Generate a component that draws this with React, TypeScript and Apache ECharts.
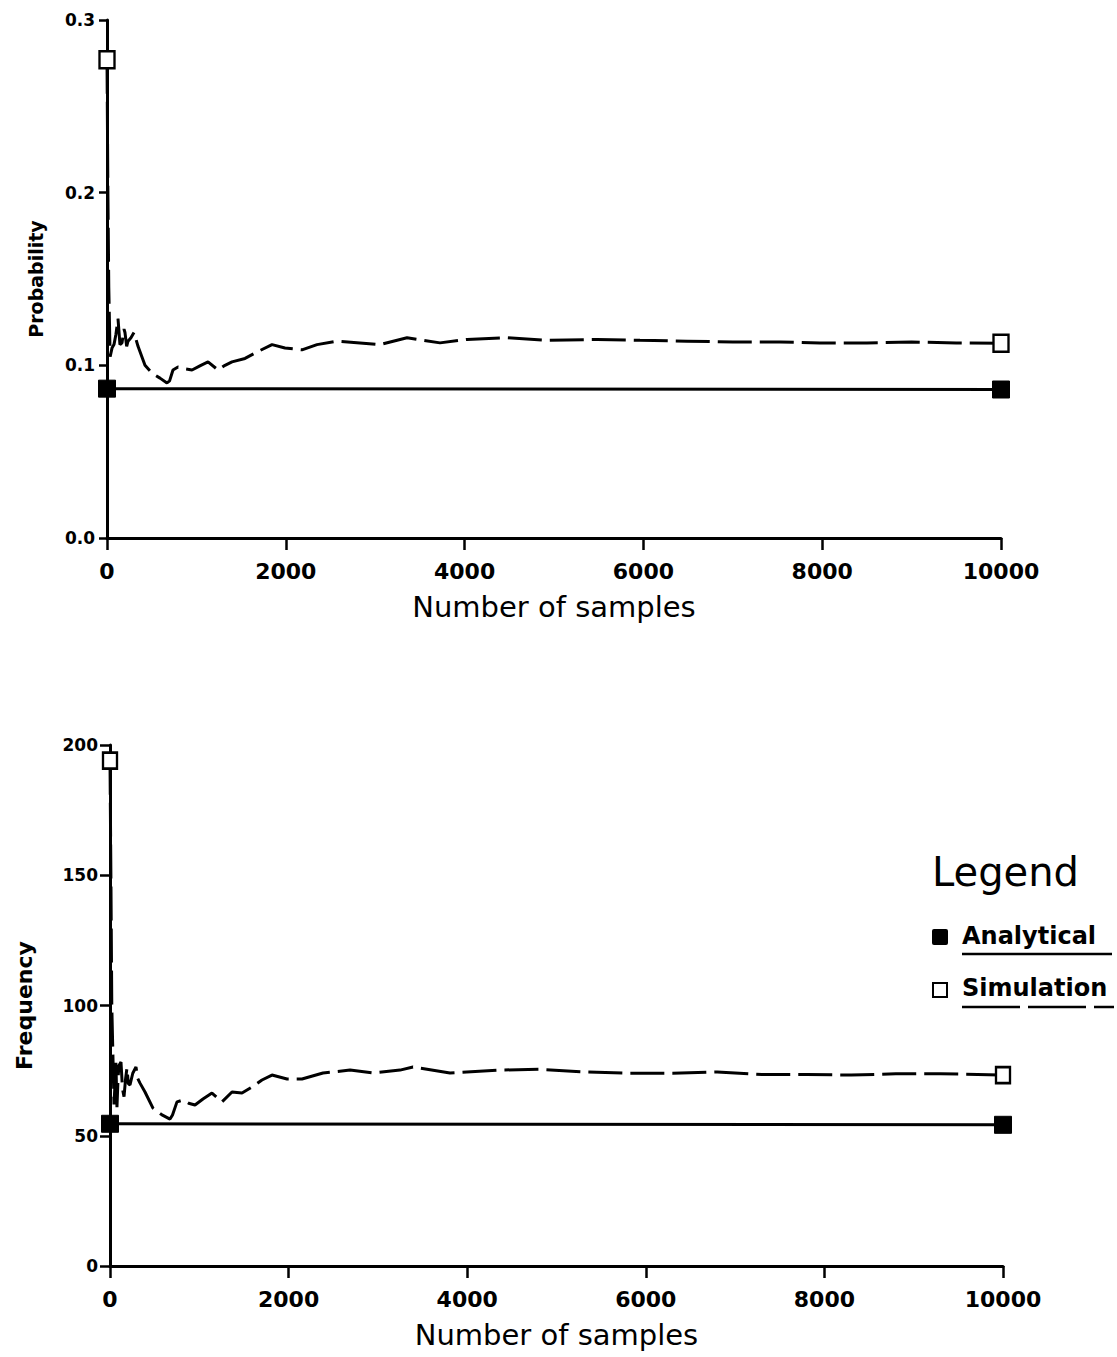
import React, { useEffect, useRef } from "react";
import * as echarts from "echarts";

// ---- Data ----
const xTicks = [0, 2000, 4000, 6000, 8000, 10000];

// Top panel: probability
const probSimX = [0, 10, 20, 35, 56, 78, 100, 123, 145, 168, 190, 201, 220, 235, 268, 302, 347, 390, 425, 503, 593, 671, 700, 738, 794, 870, 951, 1050, 1130, 1242, 1320, 1398, 1544, 1689, 1846, 1991, 2181, 2349, 2573, 2830, 3054, 3356, 3725, 4027, 4474, 4922, 5481, 5962, 6488, 7002, 7528, 7975, 8500, 9000, 9500, 10000];
const probSimY = [0.277, 0.2, 0.145, 0.105, 0.11, 0.112, 0.118, 0.127, 0.112, 0.113, 0.121, 0.119, 0.111, 0.114, 0.116, 0.119, 0.111, 0.105, 0.1, 0.0955, 0.0926, 0.0898, 0.091, 0.0973, 0.099, 0.098, 0.0973, 0.1, 0.102, 0.0973, 0.1, 0.102, 0.104, 0.108, 0.112, 0.11, 0.109, 0.112, 0.114, 0.113, 0.112, 0.116, 0.113, 0.115, 0.116, 0.1145, 0.115, 0.1145, 0.114, 0.1135, 0.1135, 0.113, 0.113, 0.1135, 0.113, 0.1128];
const probAnaX = [0, 10000];
const probAnaY = [0.0865, 0.086];

// Bottom panel: frequency
const freqSimX = [0, 10, 20, 30, 45, 56, 66, 78, 90, 100, 123, 140, 157, 175, 190, 205, 224, 255, 291, 310, 336, 392, 481, 582, 672, 700, 750, 817, 880, 952, 1041, 1142, 1254, 1366, 1478, 1590, 1702, 1814, 1982, 2150, 2385, 2688, 2945, 3248, 3393, 3807, 4334, 4800, 5300, 5800, 6300, 6800, 7300, 7800, 8300, 8800, 9300, 10000];
const freqSimY = [194, 150, 100, 85, 62, 70, 78, 61, 72, 77, 78.3, 68, 65, 72, 76, 70, 69.5, 74, 76.4, 72, 70.2, 66.8, 60.6, 58, 56.4, 58, 63, 63.7, 62.5, 61.8, 64.1, 66.4, 63, 66.8, 66.4, 68.7, 71.4, 73.3, 71.8, 71.8, 74.1, 75.2, 74.1, 75.2, 76.4, 74.1, 75.2, 75.5, 74.5, 74, 74, 74.5, 73.5, 73.5, 73.3, 73.8, 73.8, 73.3];
const freqAnaX = [0, 10000];
const freqAnaY = [54.6, 54.2];

const legendTitle = "Legend";
const seriesNames = ["Analytical", "Simulation"];

const FONT = "DejaVu Sans";

function pairs(xs: number[], ys: number[]) {
  return xs.map((x, i) => [x, ys[i]]);
}
function ends(xs: number[], ys: number[]) {
  const n = xs.length - 1;
  return [[xs[0], ys[0]], [xs[n], ys[n]]];
}

export default function App() {
  const ref = useRef<HTMLDivElement>(null);
  useEffect(() => {
    document.body.style.margin = "0";
    if (!ref.current) return;
    const chart = echarts.init(ref.current, null, { renderer: "svg" });

    const xAxisBase = (gridIndex: number) => ({
      gridIndex,
      type: "value",
      min: xTicks[0],
      max: xTicks[xTicks.length - 1],
      interval: 2000,
      axisLine: { show: true, lineStyle: { color: "#000", width: 3 } },
      axisTick: { show: true, length: 12, lineStyle: { color: "#000", width: 2.5 } },
      axisLabel: { color: "#000", fontFamily: FONT, fontWeight: "bold", fontSize: 22, margin: 22, formatter: (v: number) => String(v) },
      splitLine: { show: false },
      name: "Number of samples",
      nameLocation: "middle",
      nameGap: 54,
      nameTextStyle: { color: "#000", fontFamily: FONT, fontSize: 29 },
    });

    const simLine = { color: "#000", width: 3, type: [34, 8] };
    const anaLine = { color: "#000", width: 3, type: "solid" };

    const option = {
      animation: false,
      backgroundColor: "#fff",
      grid: [
        { left: 107, right: 116, top: 20, height: 518 },
        { left: 110, right: 114, top: 745, height: 521 },
      ],
      xAxis: [xAxisBase(0), xAxisBase(1)],
      yAxis: [
        {
          gridIndex: 0,
          type: "value",
          min: 0,
          max: 0.3,
          interval: 0.1,
          axisLine: { show: true, lineStyle: { color: "#000", width: 3 } },
          axisTick: { show: true, length: 8, lineStyle: { color: "#000", width: 2.5 } },
          axisLabel: { color: "#000", fontFamily: FONT, fontWeight: "bold", fontSize: 17, margin: 12, formatter: (v: number) => v.toFixed(1) },
          splitLine: { show: false },
          name: "Probability",
          nameLocation: "middle",
          nameGap: 62,
          nameTextStyle: { color: "#000", fontFamily: FONT, fontWeight: "bold", fontSize: 19 },
        },
        {
          gridIndex: 1,
          type: "value",
          min: 0,
          max: 200,
          interval: 50,
          axisLine: { show: true, lineStyle: { color: "#000", width: 3 } },
          axisTick: { show: true, length: 10, lineStyle: { color: "#000", width: 2.5 } },
          axisLabel: { color: "#000", fontFamily: FONT, fontWeight: "bold", fontSize: 17, margin: 12 },
          splitLine: { show: false },
          name: "Frequency",
          nameLocation: "middle",
          nameGap: 75,
          nameTextStyle: { color: "#000", fontFamily: FONT, fontWeight: "bold", fontSize: 22 },
        },
      ],
      series: [
        { name: "Simulation", type: "line", xAxisIndex: 0, yAxisIndex: 0, data: pairs(probSimX, probSimY), showSymbol: false, symbol: "none", lineStyle: simLine, z: 3 },
        { name: "Analytical", type: "line", xAxisIndex: 0, yAxisIndex: 0, data: pairs(probAnaX, probAnaY), showSymbol: false, symbol: "none", lineStyle: anaLine, z: 3 },
        { type: "scatter", xAxisIndex: 0, yAxisIndex: 0, data: ends(probSimX, probSimY), symbol: "rect", symbolSize: [15, 17], itemStyle: { color: "#fff", borderColor: "#000", borderWidth: 2.5, opacity: 1 }, z: 5 },
        { type: "scatter", xAxisIndex: 0, yAxisIndex: 0, data: ends(probAnaX, probAnaY), symbol: "rect", symbolSize: [17, 17], itemStyle: { color: "#000", borderColor: "#000", borderWidth: 1, opacity: 1 }, z: 5 },

        { name: "Simulation", type: "line", xAxisIndex: 1, yAxisIndex: 1, data: pairs(freqSimX, freqSimY), showSymbol: false, symbol: "none", lineStyle: simLine, z: 3 },
        { name: "Analytical", type: "line", xAxisIndex: 1, yAxisIndex: 1, data: pairs(freqAnaX, freqAnaY), showSymbol: false, symbol: "none", lineStyle: anaLine, z: 3 },
        { type: "scatter", xAxisIndex: 1, yAxisIndex: 1, data: ends(freqSimX, freqSimY), symbol: "rect", symbolSize: [14, 16], itemStyle: { color: "#fff", borderColor: "#000", borderWidth: 2.5, opacity: 1 }, z: 5 },
        { type: "scatter", xAxisIndex: 1, yAxisIndex: 1, data: ends(freqAnaX, freqAnaY), symbol: "rect", symbolSize: [17, 17], itemStyle: { color: "#000", borderColor: "#000", borderWidth: 1, opacity: 1 }, z: 5 },
      ],
      graphic: [
        { type: "text", left: 932, top: 852, style: { text: legendTitle, font: `40px "${FONT}"`, fill: "#000" } },
        { type: "rect", shape: { x: 932, y: 929, width: 16, height: 16, r: 2 }, style: { fill: "#000" } },
        { type: "text", left: 962, top: 924, style: { text: seriesNames[0], font: `bold 24px "${FONT}"`, fill: "#000" } },
        { type: "line", shape: { x1: 962, y1: 954, x2: 1112, y2: 954 }, style: { stroke: "#000", lineWidth: 2.5 } },
        { type: "rect", shape: { x: 933, y: 983, width: 14, height: 14 }, style: { fill: "#fff", stroke: "#000", lineWidth: 2 } },
        { type: "text", left: 962, top: 976, style: { text: seriesNames[1], font: `bold 24px "${FONT}"`, fill: "#000" } },
        { type: "line", shape: { x1: 962, y1: 1007, x2: 1114, y2: 1007 }, style: { stroke: "#000", lineWidth: 2.5, lineDash: [58, 8] } },
      ],
    };
    chart.setOption(option as any);
    return () => chart.dispose();
  }, []);
  return <div ref={ref} style={{ width: 1117, height: 1357 }} />;
}
